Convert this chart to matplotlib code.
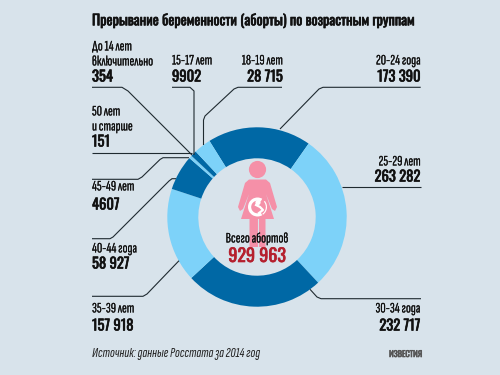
import matplotlib
matplotlib.use('Agg')
import matplotlib.pyplot as plt
import matplotlib.patheffects as pe
from matplotlib.patches import Circle, Polygon, Wedge

FONT = ['Sofia Sans Extra Condensed', 'PT Sans Narrow', 'Liberation Sans', 'DejaVu Sans']
BOLD_FONT = ['Oswald', 'PT Sans Narrow', 'Liberation Sans', 'DejaVu Sans']
BG = '#d8e3eb'
DARK = '#0068a5'
LIGHT = '#7dd2f9'
PINK = '#f590a8'
RED = '#b5202e'

# clockwise from the 20-24 segment
ages = ['20-24 года', '25-29 лет', '30-34 года', '35-39 лет', '40-44 года',
        '45-49 лет', '50 лет\nи старше', 'До 14 лет\nвключительно', '15-17 лет', '18-19 лет']
counts = [173390, 263282, 232717, 157918, 58927, 4607, 151, 354, 9902, 28715]
count_labels = ['173 390', '263 282', '232 717', '157 918', '58 927',
                '4607', '151', '354', '9902', '28 715']
total_label = '929 963'

H = 375


def y(py):
    return H - py


fig = plt.figure(figsize=(5, 3.75), dpi=100, facecolor=BG)
ax = fig.add_axes([0, 0, 1, 1])

colors = [DARK if i % 2 == 0 else LIGHT for i in range(len(counts))]
ax.pie(counts, colors=colors, startangle=122, counterclock=False, radius=89.7,
       center=(257, y(217)), frame=True, wedgeprops={'width': 31, 'linewidth': 0})
ax.set_xlim(0, 500)
ax.set_ylim(0, H)
ax.set_aspect('auto')
ax.axis('off')

# leader lines in pixel coordinates
leaders = [
    [(92, 87.3), (122, 87.3), (128, 91), (192, 155)],
    [(172, 87.3), (190, 87.3), (194, 91), (194, 155)],
    [(282, 87.3), (238, 87.3), (234, 89), (205, 116), (203.5, 120), (203.5, 145)],
    [(420.7, 87.3), (323, 87.3), (319, 89), (280, 129)],
    [(420.7, 186.7), (341.7, 186.7)],
    [(421, 298.7), (321, 298.7), (317, 297), (310, 289.3)],
    [(92, 296.3), (143, 296.3), (147, 294), (179, 260.7)],
    [(92, 238.7), (110, 238.7), (113, 237), (169, 181), (172, 178.7), (176, 178.7)],
    [(92, 179.3), (138, 179.3), (142, 177), (160, 159.5), (163, 157.7), (189, 157.7)],
    [(92, 152.7), (192, 152.7)],
]
for pts in leaders:
    ax.plot([p[0] for p in pts], [y(p[1]) for p in pts], color='#1f2a30', lw=0.8,
            solid_capstyle='butt', solid_joinstyle='round', zorder=3)


def label(x, py, s, ha='left', size=10.5, color='#111111', style='normal', stroke=0.08):
    t = ax.text(x, y(py), s, ha=ha, va='center', fontsize=size, color=color,
                fontstyle=style, family=FONT, zorder=5)
    if stroke:
        t.set_path_effects([pe.withStroke(linewidth=stroke, foreground=color)])


def heavy(x, py, s, ha='left', size=10.5, color='#111111'):
    # Oswald comes out at its regular weight here, so thicken it with a stroke
    t = ax.text(x, y(py), s, ha=ha, va='center', fontsize=size, color=color,
                family=BOLD_FONT, zorder=5)
    t.set_path_effects([pe.withStroke(linewidth=0.45, foreground=color)])


# (x, age y, count y, alignment)
positions = [
    (420.7, 61, 77, 'right'),
    (420.7, 162, 177, 'right'),
    (420.7, 309, 326, 'right'),
    (92, 309, 326, 'left'),
    (92, 249, 264, 'left'),
    (92, 187, 205, 'left'),
    (92, 112, 142, 'left'),
    (92, 47, 77, 'left'),
    (172, 61, 77, 'left'),
    (283, 61, 77, 'right'),
]
for name, num, (x, py1, py2, ha) in zip(ages, count_labels, positions):
    lines = name.split('\n')
    for i, line in enumerate(lines):
        label(x, py1 + i * 15, line, ha=ha)
    heavy(x, py2, num, ha=ha)

heavy(92, 21, 'Прерывание беременности (аборты) по возрастным группам', size=10.3)
label(92, 354, 'Источник: данные Росстата за 2014 год', style='italic', color='#222222', stroke=0)
heavy(422, 354, 'ИЗВЕСТИЯ', ha='right', size=6, color='#555555')

# pictogram
ax.add_patch(Circle((257.5, y(169.5)), 8.6, fc=PINK, lw=0, zorder=2))
body = [(249, 179.5), (266, 179.5), (270, 183), (277, 207), (275, 211), (272, 209), (266, 194),
        (274, 219), (265.5, 219), (265.5, 247), (249.5, 247), (249.5, 219), (241, 219), (249, 194),
        (243, 209), (240, 211), (238, 207), (245, 183)]
ax.add_patch(Polygon([(px, y(py)) for px, py in body], closed=True, fc=PINK, lw=0, zorder=2))
ax.plot([257.5, 257.5], [y(219), y(247)], color=BG, lw=0.8, zorder=2)
# embryo: white crescent with a curled figure inside
ax.add_patch(Wedge((257.5, y(207)), 9.5, 60, 300, width=3.2, fc='white', lw=0, zorder=3))
ax.add_patch(Wedge((257.5, y(207)), 9.5, -55, 40, width=1.2, fc='white', lw=0, zorder=3))
ax.add_patch(Circle((258, y(202.5)), 2.6, fc='white', lw=0, zorder=3))
ax.plot([256, 260, 263, 259], [y(205), y(207), y(210), y(213)], color='white', lw=1.6, zorder=3)

label(257, 239, 'Всего абортов', ha='center')
heavy(257, 256, total_label, ha='center', size=13, color=RED)

fig.savefig('out.png', dpi=100, facecolor=BG)
